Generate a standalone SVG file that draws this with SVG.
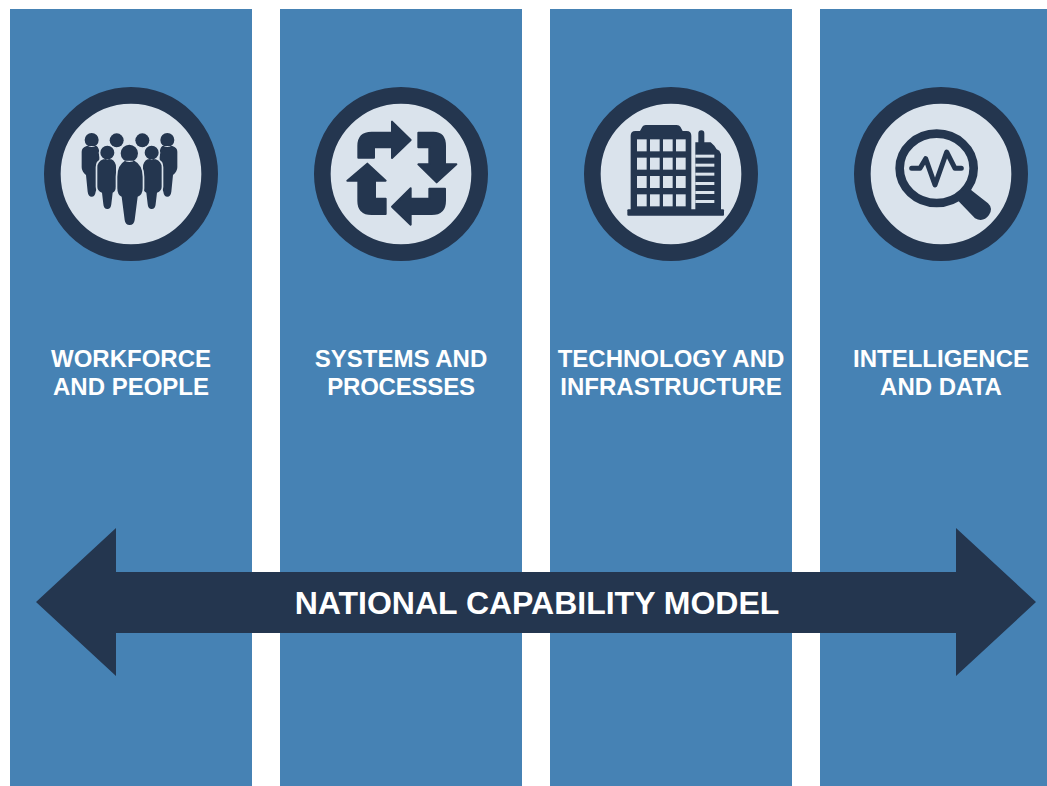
<svg xmlns="http://www.w3.org/2000/svg" width="1047" height="786" viewBox="0 0 1047 786">
<style>
.col{fill:#4682b4}
.ring{fill:#dae3ec;stroke:#24364f;stroke-width:50}
.d{fill:#24364f}
.rj{fill:#24364f;stroke:#24364f;stroke-width:6;stroke-linejoin:round}
.l{fill:#dae3ec}
.h{fill:#24364f;stroke:#dae3ec;stroke-width:10;paint-order:stroke}
.t{font-family:"Liberation Sans",Arial,sans-serif;font-weight:700;font-size:24px;fill:#fff;text-anchor:middle}
.b{font-size:32px}
</style>
<defs>
<path id="outer" class="d" d="M134 180a21 21 0 1 0 42 0a21 21 0 1 0-42 0zM140 198H170Q178 205 178 220V300L167 335Q165 350 155 350T143 335L138 285Q125 275 125 262V215Q125 203 140 198Z"/>
<path id="second" class="h" d="M181 218a21 21 0 1 0 42 0a21 21 0 1 0-42 0zM190 238H214Q228 245 228 262V320Q228 332 218 338L214 372Q213 387 202 387T190 372L186 338Q172 332 172 320V262Q172 245 190 238Z"/>
</defs>
<rect width="1047" height="786" fill="#fff"/>
<rect class="col" x="10" y="9" width="242" height="777"/>
<rect class="col" x="280" y="9" width="242" height="777"/>
<rect class="col" x="550" y="9" width="242" height="777"/>
<rect class="col" x="820" y="9" width="227" height="777"/>
<g id="node-workforce">
<g transform="translate(40 80) scale(.33333)">
<circle class="ring" cx="273" cy="282" r="236"/>
<circle class="d" cx="230" cy="181" r="21"/><circle class="d" cx="307" cy="181" r="21"/>
<use href="#outer"/>
<use href="#outer" transform="matrix(-1 0 0 1 537 0)"/>
<use href="#second"/>
<use href="#second" transform="matrix(-1 0 0 1 537 0)"/>
<path class="h" d="M242 220a26 26 0 1 0 52 0a26 26 0 1 0-52 0zM255 242H283Q308 255 308 290V325Q308 345 293 350L284 420Q282 435 269 435T254 420L245 350Q232 345 232 325V290Q232 255 255 242Z"/>
</g>
<text class="t" x="131" y="367">WORKFORCE</text><text class="t" x="131" y="395">AND PEOPLE</text>
</g>
<g id="node-systems">
<g transform="translate(310 80) scale(.33333)">
<circle class="ring" cx="273" cy="282" r="236"/>
<path class="rj" d="M145 233H192V202H246V234L302 180 246 125V158H185Q145 158 145 198Z"/>
<path class="rj" d="M325 158H370Q405 158 405 198V253H439L380 307 325 253H358V202H325Z"/>
<path class="rj" d="M405 326H358V356H302V325L246 380 302 434V402H365Q405 402 405 362Z"/>
<path class="rj" d="M172 251 227 302H195V356H227V402H185Q145 402 145 362V302H112Z"/>
</g>
<text class="t" x="401" y="367">SYSTEMS AND</text><text class="t" x="401" y="395" letter-spacing="-.2">PROCESSES</text>
</g>
<g id="node-technology">
<g transform="translate(580 80) scale(.33333)">
<circle class="ring" cx="273" cy="282" r="236"/>
<path class="d" d="M152 392V167Q152 153 166 153H180L187 140Q190 135 197 135H290Q298 135 301 140L308 153H320Q334 153 334 167V392Z"/>
<path class="d" d="M346 392V187H355V160Q355 151 364 151T373 160V187H392L403 197 410 208 418 212 423 222V392Z"/>
<rect class="d" x="142" y="388" width="290" height="19" rx="3"/>
<g class="l">
<rect x="171" y="178" width="29" height="36"/><rect x="210" y="178" width="29" height="36"/><rect x="249" y="178" width="29" height="36"/><rect x="288" y="178" width="29" height="36"/>
<rect x="171" y="233" width="29" height="36"/><rect x="210" y="233" width="29" height="36"/><rect x="249" y="233" width="29" height="36"/><rect x="288" y="233" width="29" height="36"/>
<rect x="171" y="288" width="29" height="36"/><rect x="210" y="288" width="29" height="36"/><rect x="249" y="288" width="29" height="36"/><rect x="288" y="288" width="29" height="36"/>
<rect x="171" y="343" width="29" height="36"/><rect x="210" y="343" width="29" height="36"/><rect x="249" y="343" width="29" height="36"/><rect x="288" y="343" width="29" height="36"/>
<rect x="346" y="224" width="57" height="9"/><rect x="346" y="251" width="57" height="9"/><rect x="346" y="278" width="57" height="9"/><rect x="346" y="306" width="57" height="9"/><rect x="346" y="333" width="57" height="9"/><rect x="346" y="360" width="57" height="9"/>
</g>
</g>
<text class="t" x="671" y="367">TECHNOLOGY AND</text><text class="t" x="671" y="395">INFRASTRUCTURE</text>
</g>
<g id="node-intelligence">
<g transform="translate(850 80) scale(.33333)">
<circle class="ring" cx="273" cy="282" r="236"/>
<ellipse cx="260" cy="265" rx="111" ry="104" fill="none" stroke="#24364f" stroke-width="26"/>
<path class="d" d="M318 352 352 318 366 332 414 370Q430 385 417 405 400 428 375 415L328 366Z"/>
<path d="M185 265H210L227 236 255 315 290 216 315 265H334" fill="none" stroke="#24364f" stroke-width="15" stroke-linecap="round" stroke-linejoin="round"/>
</g>
<text class="t" x="941" y="367">INTELLIGENCE</text><text class="t" x="941" y="395">AND DATA</text>
</g>
<g id="connectors">
<polygon class="d" points="36,602 116,528 116,572 956,572 956,528 1036,602 956,676 956,633 116,633 116,676"/>
</g>
<text class="t b" x="537" y="614">NATIONAL CAPABILITY MODEL</text>
</svg>
